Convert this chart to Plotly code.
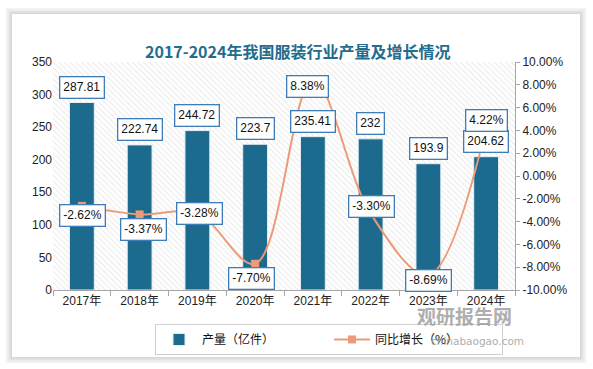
import plotly.graph_objects as go

years = ["2017年", "2018年", "2019年", "2020年", "2021年", "2022年", "2023年", "2024年"]
output = [287.81, 222.74, 244.72, 223.7, 235.41, 232, 193.9, 204.62]
growth = [-2.62, -3.37, -3.28, -7.70, 8.38, -3.30, -8.69, 4.22]
output_labels = ["287.81", "222.74", "244.72", "223.7", "235.41", "232", "193.9", "204.62"]
growth_labels = ["-2.62%", "-3.37%", "-3.28%", "-7.70%", "8.38%", "-3.30%", "-8.69%", "4.22%"]
right_ticks = [10, 8, 6, 4, 2, 0, -2, -4, -6, -8, -10]

# label offsets (pixels) for growth labels
g_dx = [1, 4, 2, -4, -5, 1, 0, 0]
g_dy = [-10, -15, 0, -15, -6, 7, -5, 7]

BAR = "#1C6B8F"
LINE = "#EC9B78"
BORDER = "#3E7DB8"
FONT = "Liberation Sans, Arial, Noto Sans CJK SC"
CJK = "Noto Sans CJK SC"

fig = go.Figure()

# hatched plot background
fig.add_trace(go.Bar(x=[0.5], y=[1], width=[1], xaxis="x", yaxis="y",
                     marker=dict(color="white", line=dict(width=0),
                                 pattern=dict(shape="\\", fgcolor="#d2d2d2", bgcolor="white",
                                              size=4, solidity=0.25)),
                     showlegend=False, hoverinfo="skip"))

fig.add_trace(go.Bar(x=years, y=output, name="产量（亿件）", xaxis="x2", yaxis="y2",
                     width=0.43, marker=dict(color=BAR, line=dict(color="#e8eef2", width=1))))
fig.add_trace(go.Scatter(x=years, y=growth, name="同比增长（%）", xaxis="x2", yaxis="y3",
                         mode="lines+markers", line=dict(color=LINE, width=2, shape="spline", smoothing=1),
                         marker=dict(symbol="square", size=8, color=LINE)))

annotations = []
for yr, v, t in zip(years, output, output_labels):
    annotations.append(dict(x=yr, y=v, xref="x2", yref="y2", text=t, showarrow=False,
                            yanchor="bottom", yshift=4, bgcolor="white", bordercolor=BORDER,
                            borderwidth=1.3, borderpad=3, font=dict(family=FONT, size=12, color="#111")))
for yr, v, t, dx, dy in zip(years, growth, growth_labels, g_dx, g_dy):
    annotations.append(dict(x=yr, y=v, xref="x2", yref="y3", text=t, showarrow=False,
                            xshift=dx, yshift=dy, bgcolor="white", bordercolor=BORDER,
                            borderwidth=1.3, borderpad=3, font=dict(family=FONT, size=12, color="#111")))

annotations.append(dict(x=297, y=37, xref="paper", yref="paper", text="<b>2017-2024年我国服装行业产量及增长情况</b>",
                        showarrow=False, font=dict(family=CJK, size=16, color="#236C8E")))
annotations.append(dict(x=514, y=331, xref="paper", yref="paper", text="<b>观研报告网</b>", showarrow=False,
                        font=dict(family=CJK, size=19, color="#9a9a9a"), opacity=0.8))
annotations.append(dict(x=526, y=349, xref="paper", yref="paper", text="chinabaogao.com", showarrow=False,
                        font=dict(family="DejaVu Sans", size=10.5, color="#9a9a9a"), opacity=0.8))

# convert pixel coords for paper annotations
W, H = 593, 369
ml, mr, mt, mb = 53, 78, 62, 79
pw, ph = W - ml - mr, H - mt - mb
for a in annotations:
    if a.get("xref") == "paper":
        a["x"] = (a["x"] - ml) / pw
        a["y"] = (H - mb - a["y"]) / ph

def px(x):
    return (x - ml) / pw

def py(y):
    return (H - mb - y) / ph

shapes = []
# shadow
for i, c in enumerate(["#f4f4f4", "#ececec", "#e2e2e2", "#d8d8d8"]):
    d = 6 - i * 1.5
    shapes.append(dict(type="rect", xref="paper", yref="paper", layer="below",
                       x0=px(12 - d), x1=px(580 + d), y0=py(357 + d), y1=py(14 - d),
                       fillcolor=c, line=dict(width=0)))
shapes.append(dict(type="rect", xref="paper", yref="paper", layer="below",
                   x0=px(12), x1=px(580), y0=py(357), y1=py(14),
                   fillcolor="white", line=dict(width=0)))

fig.update_layout(
    width=W, height=H,
    margin=dict(l=ml, r=mr, t=mt, b=mb, autoexpand=False),
    paper_bgcolor="white", plot_bgcolor="rgba(0,0,0,0)",
    font=dict(family=FONT, size=12, color="#222"),
    barmode="overlay",
    xaxis=dict(range=[0, 1], visible=False, fixedrange=True),
    yaxis=dict(range=[0, 1], visible=False, fixedrange=True),
    xaxis2=dict(overlaying="x", type="category", showline=True, linecolor="#a6a6a6", linewidth=1,
                ticks="outside", tickson="boundaries", ticklen=5, tickcolor="#a6a6a6",
                tickfont=dict(family=FONT, size=12, color="#222"), showgrid=False, anchor="y2",
                automargin=False),
    yaxis2=dict(overlaying="y", range=[0, 350], dtick=50, showgrid=False, showline=False, ticks="",
                tickfont=dict(family=FONT, size=12, color="#222"), zeroline=False, side="left",
                automargin=False),
    yaxis3=dict(overlaying="y", side="right", range=[-10, 10], tickvals=right_ticks,
                ticktext=[f"{v:.2f}%" for v in right_ticks], showgrid=False, zeroline=False,
                showline=True, linecolor="#a6a6a6", ticks="outside", ticklen=4, tickcolor="#a6a6a6",
                tickfont=dict(family=FONT, size=12, color="#222"), automargin=False),
    legend=dict(orientation="h", x=px(155), y=py(324), xanchor="left", yanchor="top",
                bordercolor="#d0d0d0", borderwidth=1, bgcolor="white",
                font=dict(family=CJK, size=12, color="#111"), itemwidth=36, entrywidth=122),
    annotations=annotations, shapes=shapes,
)

fig.write_html("out.html", config={"displayModeBar": False},
               post_script="document.body.style.margin='0';document.body.style.overflow='hidden';")
